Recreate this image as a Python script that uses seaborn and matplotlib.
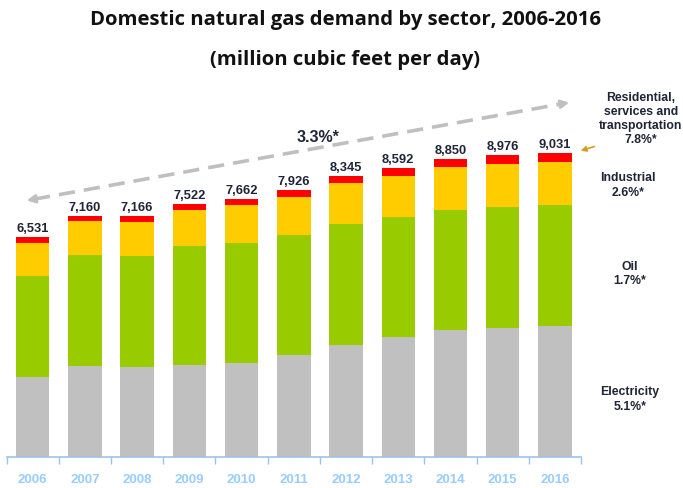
import numpy as np
import pandas as pd
import matplotlib
matplotlib.use("Agg")
import matplotlib.pyplot as plt
import seaborn as sns

years = ["2006", "2007", "2008", "2009", "2010", "2011", "2012", "2013", "2014", "2015", "2016"]
electricity = [2372, 2699, 2669, 2720, 2788, 3020, 3320, 3562, 3770, 3830, 3892]
oil = [3006, 3303, 3303, 3565, 3580, 3575, 3618, 3562, 3576, 3612, 3586]
industrial = [991, 1021, 1021, 1060, 1113, 1122, 1199, 1229, 1266, 1255, 1286]
residential = [162, 137, 173, 177, 181, 209, 208, 239, 238, 279, 267]
totals = [6531, 7160, 7166, 7522, 7662, 7926, 8345, 8592, 8850, 8976, 9031]

sector_labels = ["Residential,\nservices and\ntransportation\n7.8%*", "Industrial\n2.6%*", "Oil\n1.7%*", "Electricity\n5.1%*"]
cagr_label = "3.3%*"
title = "Domestic natural gas demand by sector, 2006-2016"
subtitle = "(million cubic feet per day)"

colors = {"res": "#FF0000", "ind": "#FFCC00", "oil": "#99CC00", "ele": "#C0C0C0"}

sns.set_theme(style="white")
plt.rcParams["font.family"] = ["Liberation Sans", "DejaVu Sans"]

W, H = 683, 489
fig = plt.figure(figsize=(W / 100, H / 100), dpi=100)
x0, x1, ybase, ytop = 6.6, 581, 457.7, 80
ax = fig.add_axes([x0 / W, (H - ybase) / H, (x1 - x0) / W, (ybase - ytop) / H])

df = pd.DataFrame({"year": years, "ele": electricity, "oil": oil, "ind": industrial, "res": residential})
df["c_ele"] = df["ele"]
df["c_oil"] = df["c_ele"] + df["oil"]
df["c_ind"] = df["c_oil"] + df["ind"]
df["c_res"] = df["c_ind"] + df["res"]

for col, key in [("c_res", "res"), ("c_ind", "ind"), ("c_oil", "oil"), ("c_ele", "ele")]:
    sns.barplot(data=df, x="year", y=col, color=colors[key], saturation=1, width=0.64,
                ax=ax, linewidth=0)

ax.set_xlim(-0.5, 10.5)
ax.set_ylim(0, 11240)
ax.set_xlabel("")
ax.set_ylabel("")
ax.set_yticks([])
for s in ["left", "right", "top"]:
    ax.spines[s].set_visible(False)
axis_blue = "#9DC3E6"
ax.spines["bottom"].set_color(axis_blue)
ax.spines["bottom"].set_linewidth(1.2)
ax.set_xticks(range(len(years)))
ax.set_xticklabels(years, color="#99CCFF", fontweight="bold", fontsize=9.5)
ax.set_xticks(np.arange(-0.5, len(years)), minor=True)
ax.tick_params(axis="x", which="major", length=0, pad=12)
ax.tick_params(axis="x", which="minor", length=5, width=1, color=axis_blue, direction="out", bottom=True)

for i, t in enumerate(totals):
    ax.text(i, df["c_res"][i] + 90, f"{t:,}", ha="center", va="bottom",
            fontsize=9.3, fontweight="bold", color="#1F2436")

def fx(px):
    return px / W

def fy(py):
    return 1 - py / H

fig.text(fx(345), fy(20), title, ha="center", va="center", fontsize=14.6, fontweight="bold",
         family=["Open Sans", "DejaVu Sans"], color="#111111")
fig.text(fx(345), fy(60), subtitle, ha="center", va="center", fontsize=14.6, fontweight="bold",
         family=["Open Sans", "DejaVu Sans"], color="#111111")

# dashed double arrow
grey = "#BFBFBF"
lx0, ly0, lx1, ly1 = 34, 200.2, 562, 104.8
fig.add_artist(plt.Line2D([fx(lx0), fx(lx1)], [fy(ly0), fy(ly1)], transform=fig.transFigure,
                          color=grey, lw=2.6, linestyle=(0, (4.5, 2.5))))
for (ax_, ay_, bx_, by_) in [(lx0 + 1, ly0 - 0.2, 24, 202), (lx1 - 1, ly1 + 0.2, 572, 103)]:
    fig.add_artist(matplotlib.patches.FancyArrowPatch((fx(ax_), fy(ay_)), (fx(bx_), fy(by_)),
                   transform=fig.transFigure, arrowstyle="-|>", mutation_scale=12,
                   color=grey, lw=2))
fig.text(fx(318), fy(138), cagr_label, ha="center", va="center", fontsize=11.5,
         fontweight="bold", color="#1F2436")

# sector labels
pos = [(641, 119), (628, 185.5), (630, 274), (630, 399.5)]
for lab, (px, py) in zip(sector_labels, pos):
    fig.text(fx(px), fy(py), lab, ha="center", va="center", fontsize=8.8,
             fontweight="bold", color="#1F2436", linespacing=1.25)

fig.add_artist(matplotlib.patches.FancyArrowPatch((fx(597), fy(146.7)), (fx(578), fy(152.5)),
               transform=fig.transFigure, arrowstyle="-|>", mutation_scale=8,
               color="#D4A11E", lw=1.2))

fig.savefig("out.png", dpi=100)
